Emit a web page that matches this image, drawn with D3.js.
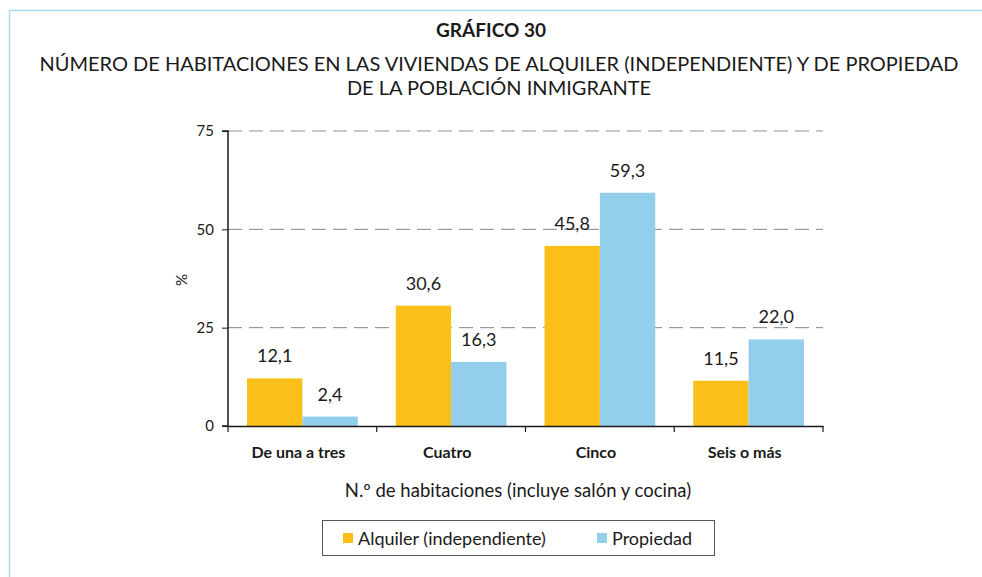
<!DOCTYPE html>
<html>
<head>
<meta charset="utf-8">
<script src="https://cdn.jsdelivr.net/npm/d3@7"></script>
<style>
  body { margin: 0; background: #fff; }
  text { font-family: Lato, "Open Sans", sans-serif; fill: #1a1a1a; }
</style>
</head>
<body>
<div id="chart"></div>
<script>
// Chart data
var categories = ["De una a tres", "Cuatro", "Cinco", "Seis o más"];
var seriesNames = ["Alquiler (independiente)", "Propiedad"];
var alquiler = [12.1, 30.6, 45.8, 11.5];
var propiedad = [2.4, 16.3, 59.3, 22.0];
var yTicks = [0, 25, 50, 75];
var colors = ["#fbbf1a", "#93cfeb"];

var width = 982, height = 577;

var svg = d3.select("#chart")
  .append("svg")
  .attr("width", width)
  .attr("height", height);

// light blue frame (top and left)
svg.append("path")
  .attr("d", "M9.5,577 V10.5 H982")
  .attr("fill", "none")
  .attr("stroke", "#a8dcef")
  .attr("stroke-width", 1.5);

// Titles
svg.append("text")
  .attr("x", 491).attr("y", 37)
  .attr("text-anchor", "middle")
  .style("font-size", "19px").style("font-weight", "bold")
  .text("GRÁFICO 30");

svg.append("text")
  .attr("x", 499).attr("y", 71)
  .attr("text-anchor", "middle")
  .style("font-size", "20px")
  .text("NÚMERO DE HABITACIONES EN LAS VIVIENDAS DE ALQUILER (INDEPENDIENTE) Y DE PROPIEDAD");

svg.append("text")
  .attr("x", 499).attr("y", 95)
  .attr("text-anchor", "middle")
  .style("font-size", "20px")
  .text("DE LA POBLACIÓN INMIGRANTE");

// Plot area
var plotLeft = 228, plotRight = 823, plotTop = 131, plotBottom = 426;

var x0 = d3.scaleBand()
  .domain(categories)
  .range([plotLeft, plotRight])
  .padding(0);

var x1 = d3.scaleBand()
  .domain([0, 1])
  .range([19, x0.bandwidth() - 19]);

var y = d3.scaleLinear()
  .domain([0, 75])
  .range([plotBottom, plotTop]);

// Gridlines
svg.append("g")
  .selectAll("line")
  .data(yTicks.filter(function(d) { return d > 0; }))
  .enter()
  .append("line")
  .attr("x1", plotLeft).attr("x2", plotRight)
  .attr("y1", function(d) { return y(d); })
  .attr("y2", function(d) { return y(d); })
  .attr("stroke", function(d) { return d === 75 ? "#b5b5b5" : "#858585"; })
  .attr("stroke-width", function(d) { return d === 75 ? 1.5 : 1; })
  .attr("stroke-dasharray", "14,7");

// Bars
var data = categories.map(function(c, i) {
  return { cat: c, values: [alquiler[i], propiedad[i]] };
});

var groups = svg.append("g")
  .selectAll("g")
  .data(data)
  .enter()
  .append("g")
  .attr("transform", function(d) { return "translate(" + x0(d.cat) + ",0)"; });

groups.selectAll("rect")
  .data(function(d) { return d.values.map(function(v, k) { return { k: k, v: v }; }); })
  .enter()
  .append("rect")
  .attr("x", function(d) { return x1(d.k); })
  .attr("width", x1.bandwidth())
  .attr("y", function(d) { return y(d.v); })
  .attr("height", function(d) { return plotBottom - y(d.v); })
  .attr("fill", function(d) { return colors[d.k]; });

// Value labels
groups.selectAll("text.val")
  .data(function(d) { return d.values.map(function(v, k) { return { k: k, v: v }; }); })
  .enter()
  .append("text")
  .attr("class", "val")
  .attr("x", function(d) { return x1(d.k) + x1.bandwidth() / 2; })
  .attr("y", function(d) { return y(d.v) - 16; })
  .attr("text-anchor", "middle")
  .style("font-size", "18px")
  .text(function(d) { return d.v.toFixed(1).replace(".", ","); });

// Y axis
var yAxis = d3.axisLeft(y).tickValues(yTicks).tickSize(6).tickPadding(8);
var gy = svg.append("g")
  .attr("transform", "translate(" + plotLeft + ",0)")
  .call(yAxis);
gy.select(".domain").attr("stroke", "#1a1a1a").attr("stroke-width", 1.5)
  .attr("d", "M-6," + plotTop + "H0V" + plotBottom + "H-6");
gy.selectAll(".tick line").attr("stroke", "#1a1a1a");
gy.selectAll(".tick text")
  .style("font-family", "Lato, sans-serif")
  .style("font-size", "15px")
  .attr("fill", "#1a1a1a");

// X axis
var xAxis = d3.axisBottom(x0).tickSize(0).tickPadding(21);
var gx = svg.append("g")
  .attr("transform", "translate(0," + plotBottom + ")")
  .call(xAxis);
gx.select(".domain").attr("stroke", "#1a1a1a").attr("stroke-width", 1.5);
gx.selectAll(".tick text")
  .attr("dx", -4)
  .style("font-family", "Lato, sans-serif")
  .style("font-size", "16px")
  .style("font-weight", "bold")
  .attr("fill", "#1a1a1a");

// category separator ticks
var sepX = categories.map(function(c) { return x0(c); }).concat([plotRight]);
svg.append("g")
  .selectAll("line")
  .data(sepX)
  .enter()
  .append("line")
  .attr("x1", function(d) { return d; })
  .attr("x2", function(d) { return d; })
  .attr("y1", plotBottom)
  .attr("y2", plotBottom + 6)
  .attr("stroke", "#1a1a1a")
  .attr("stroke-width", 1.2);

// Axis titles
svg.append("text")
  .attr("transform", "translate(187,280) rotate(-90)")
  .attr("text-anchor", "middle")
  .style("font-size", "15px")
  .text("%");

svg.append("text")
  .attr("x", 518).attr("y", 497)
  .attr("text-anchor", "middle")
  .style("font-size", "18.5px")
  .text("N.º de habitaciones (incluye salón y cocina)");

// Legend
var legend = svg.append("g");
legend.append("rect")
  .attr("x", 322.5).attr("y", 520.5)
  .attr("width", 392).attr("height", 35)
  .attr("fill", "#fff")
  .attr("stroke", "#555")
  .attr("stroke-width", 1);

var legendX = [343, 597];
seriesNames.forEach(function(name, i) {
  legend.append("rect")
    .attr("x", legendX[i]).attr("y", 533)
    .attr("width", 10).attr("height", 10)
    .attr("fill", colors[i]);
  legend.append("text")
    .attr("x", legendX[i] + 15).attr("y", 545)
    .style("font-size", "18px")
    .text(name);
});
</script>
</body>
</html>
